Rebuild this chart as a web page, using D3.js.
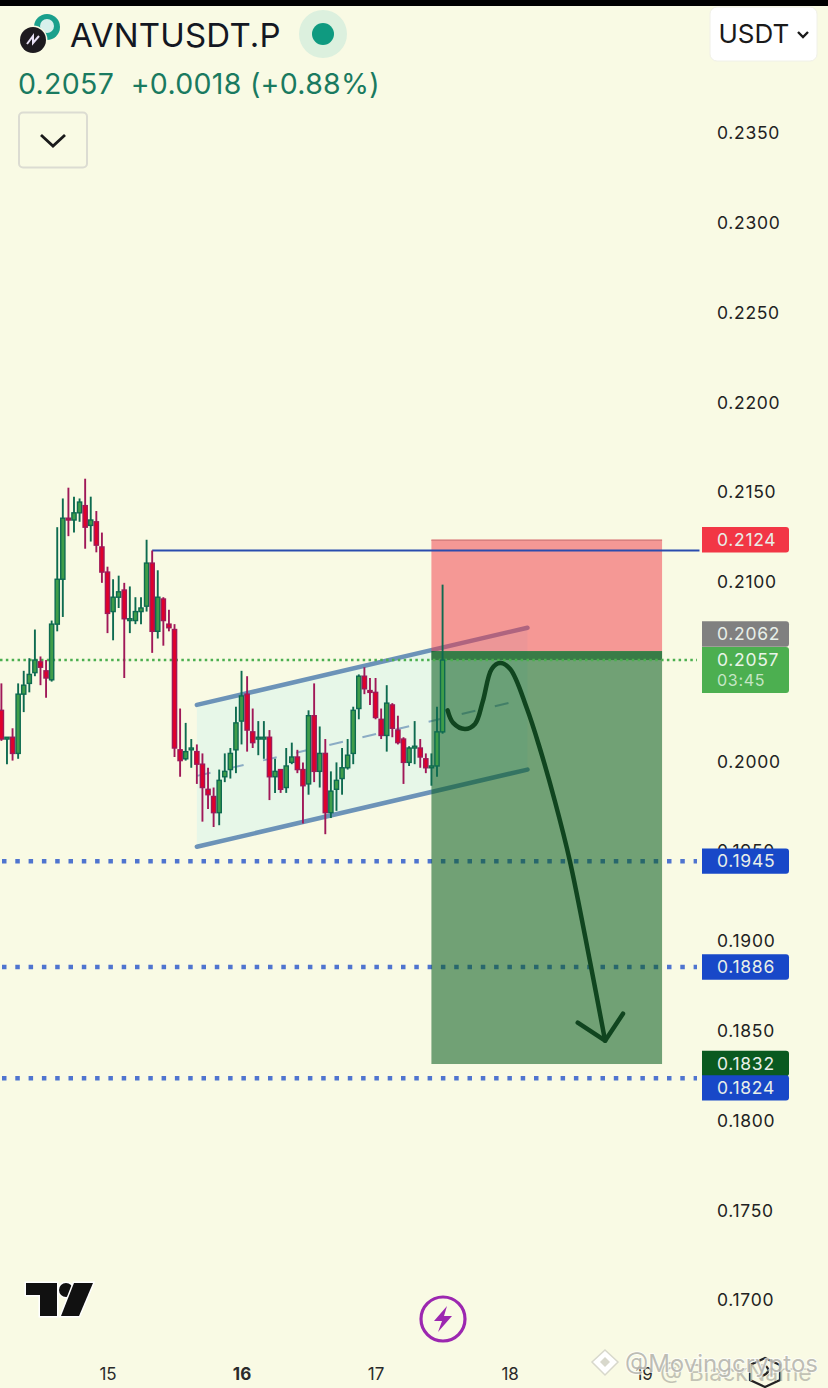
<!DOCTYPE html>
<html><head><meta charset="utf-8">
<script src="https://cdn.jsdelivr.net/npm/d3@7/dist/d3.min.js"></script>
<style>
html,body{margin:0;padding:0;background:#f9fae4;}
svg{display:block;font-family:Inter,Roboto,sans-serif;}
</style></head><body><div id="chart"></div>
<script>
const firstHour = -19;
const opens = [.2029,.2013,.2014,.2005,.2038,.2044,.2050,.2056,.2051,.2046,.2077,.2102,.2136,.2135,.2139,.2143,.2132,.2134,.2120,.2106,
.2084,.2092,.2096,.2079,.2079,.2084,.2087,.2111,.2073,.2091,.2077,.2074,.2007,.2002,.2007,.2006,.1999,.1985,.1981,.1972,
.1992,.1996,.2007,.2023,.2038,.2017,.2013,.2013,.2014,.1992,.1996,.1986,.2000,.2003,.1996,.1988,.2026,.1995,.2005,.1972,
.1985,.1991,.1997,.2005,.2030,.2048,.2040,.2039,.2024,.2015,.2032,.2018,.2013,.2000,.2008,.2008,.2002,.1997,.1998,.2017];
const highs = [.2044,.2014,.2019,.2044,.2051,.2058,.2074,.2059,.2057,.2079,.2131,.2147,.2153,.2148,.2147,.2158,.2148,.2140,.2128,.2109,
.2102,.2104,.2100,.2098,.2092,.2092,.2124,.2118,.2107,.2092,.2085,.2077,.2030,.2022,.2013,.2010,.2005,.1997,.1986,.1996,
.2005,.2008,.2031,.2051,.2048,.2030,.2023,.2023,.2018,.2002,.1996,.2008,.2011,.2007,.2000,.2029,.2044,.2020,.2013,.1995,
.2000,.2008,.2013,.2031,.2049,.2053,.2047,.2047,.2030,.2043,.2033,.2026,.2014,.2009,.2023,.2013,.2005,.2005,.2031,.2099];
const lows = [.2012,.1999,.2001,.2002,.2028,.2039,.2048,.2043,.2036,.2045,.2073,.2081,.2126,.2128,.2134,.2119,.2123,.2117,.2100,.2072,
.2068,.2086,.2047,.2072,.2077,.2077,.2084,.2061,.2069,.2065,.2073,.2003,.1992,.2001,.1997,.1988,.1967,.1974,.1964,.1965,
.1989,.1991,.1994,.2010,.2006,.2008,.2004,.2002,.1979,.1983,.1983,.1983,.1999,.1994,.1966,.1982,.1989,.1986,.1960,.1969,
.1973,.1982,.1996,.1999,.2024,.2038,.2032,.2024,.2013,.2006,.2014,.2010,.1988,.1998,.1999,.1997,.1994,.1987,.1992,.2016];
const closes = [.2013,.2014,.2005,.2038,.2043,.2049,.2057,.2053,.2047,.2077,.2102,.2136,.2135,.2139,.2145,.2131,.2135,.2121,.2106,.2083,
.2092,.2095,.2080,.2080,.2084,.2086,.2111,.2073,.2092,.2079,.2075,.2008,.2001,.2006,.2008,.1999,.1986,.1982,.1972,.1990,
.1995,.2005,.2022,.2037,.2018,.2011,.2014,.2014,.1992,.1995,.1985,.1998,.2003,.1996,.1987,.2026,.1995,.2005,.1972,.1984,
.1990,.1997,.2004,.2029,.2048,.2041,.2039,.2025,.2015,.2033,.2019,.2011,.2000,.2008,.2009,.2003,.1997,.1998,.2017,.2057];

const priceTicks = [.2350,.2300,.2250,.2200,.2150,.2100,.2050,.2000,.1950,.1900,.1850,.1800,.1750,.1700];
const dayTickHours = [0,24,48,72,96];
const dayLabels = ["15","16","17","18","19"];
const supportLevels = [.1945,.1886,.1824];
const lastPrice = .2057, entryPrice = .2062, stopPrice = .2124, targetPrice = .1832, swingHigh = .2118;
const swingHours = [8,106];
const positionHours = [58,99.3];
const channelHours = [16,75.2];
const channelUpper = [.2032,.2075];
const channelLower = [.1953,.1996];
const channelMid = [.19925,.20355];
const pathHours = [60.9,61.9,64,65.8,67.2,68.8,70.3,72.1,75.1,77.4,80.1,82.8,86.4,89.1];
const pathPrices = [.2029,.2022,.20186,.20214,.2034,.2052,.20553,.2052,.2030,.2008,.19785,.1945,.1889,.1845];
const arrowHours = [84.2,89.1,92.3];
const arrowPrices = [.1855,.1845,.1860];
const labelTexts = ["0.2124","0.2062","0.1945","0.1886","0.1832","0.1824"];
const labelPrices = [.2124,.2062,.1945,.1886,.1832,.1824];
const labelColors = ["#f23645","#808080","#1848c8","#1848c8","#0a5a20","#1848c8"];
const labelNudge = [0,-17,0,0,-0.5,9.5];

const W=828,H=1388;
const y=d3.scaleLinear().domain([.2350,.1700]).range([134,1301]);
const x=d3.scaleLinear().domain([0,72]).range([107.5,509.6]);
const svg=d3.select("#chart").append("svg").attr("width",W).attr("height",H).attr("viewBox",`0 0 ${W} ${H}`);
svg.append("rect").attr("width",W).attr("height",H).attr("fill","#f9fae4");
svg.append("rect").attr("width",W).attr("height",6).attr("fill","#000");

// axes
const yAxis=svg.append("g").attr("transform","translate(717,-0.8)")
  .call(d3.axisRight(y).tickValues(priceTicks).tickSize(0).tickPadding(0).tickFormat(d3.format(".4f")));
yAxis.select(".domain").remove();
yAxis.selectAll("text").attr("font-family","Inter,Roboto,sans-serif").attr("font-size",17.5).attr("fill","#222").attr("letter-spacing",0.7);
const xAxis=svg.append("g").attr("transform","translate(0,1368)")
  .call(d3.axisBottom(x).tickValues(dayTickHours).tickSize(0).tickPadding(0).tickFormat((d,i)=>dayLabels[i]));
xAxis.select(".domain").remove();
xAxis.selectAll("text").attr("font-family","Inter,Roboto,sans-serif").attr("font-size",17).attr("fill","#2a2a2a")
  .attr("font-weight",(d,i)=>i===1?700:400);

// channel
const chPts=[[channelHours[0],channelUpper[0]],[channelHours[1],channelUpper[1]],[channelHours[1],channelLower[1]],[channelHours[0],channelLower[0]]];
svg.append("path").attr("d",d3.line().x(d=>x(d[0])).y(d=>y(d[1]))(chPts)+"Z").attr("fill","#e7f7e8");
const chanLine=(vals,w,dash,op)=>svg.append("line")
  .attr("x1",x(channelHours[0])).attr("x2",x(channelHours[1])).attr("y1",y(vals[0])).attr("y2",y(vals[1]))
  .attr("stroke","#6c93b8").attr("stroke-width",w).attr("stroke-linecap",dash?"butt":"round").attr("stroke-dasharray",dash).attr("stroke-opacity",op);
chanLine(channelMid,2,"14 20",.75);
chanLine(channelUpper,4.5,null,1);
chanLine(channelLower,4.5,null,1);

// support dotted lines
svg.selectAll(".sup").data(supportLevels).join("line").attr("class","sup")
  .attr("x1",0).attr("x2",697).attr("y1",d=>y(d)).attr("y2",d=>y(d))
  .attr("stroke","#4f74cf").attr("stroke-width",4.5).attr("stroke-dasharray","4.5 8.8").attr("stroke-dashoffset",-2);

// position tool
const pX0=x(positionHours[0]),pX1=x(positionHours[1]);
svg.append("rect").attr("x",pX0).attr("width",pX1-pX0).attr("y",y(stopPrice)).attr("height",y(entryPrice)-y(stopPrice)).attr("fill","#f23645").attr("fill-opacity",.5);
svg.append("rect").attr("x",pX0).attr("width",pX1-pX0).attr("y",y(entryPrice)).attr("height",y(targetPrice)-y(entryPrice)).attr("fill","rgb(11,94,33)").attr("fill-opacity",.57);
svg.append("rect").attr("x",pX0).attr("width",pX1-pX0).attr("y",y(entryPrice)).attr("height",y(lastPrice)-y(entryPrice)).attr("fill","rgb(11,94,33)").attr("fill-opacity",.55);
svg.append("line").attr("x1",pX0).attr("x2",pX1).attr("y1",y(stopPrice)+.5).attr("y2",y(stopPrice)+.5).attr("stroke","#d9807f").attr("stroke-width",1.5);

// current price dotted
svg.append("line").attr("x1",0).attr("x2",697).attr("y1",y(lastPrice)).attr("y2",y(lastPrice))
  .attr("stroke","#4caf50").attr("stroke-width",2.5).attr("stroke-dasharray","2.5 3.35");

// swing high line
svg.append("line").attr("x1",x(swingHours[0])).attr("x2",x(swingHours[1])).attr("y1",y(swingHigh)).attr("y2",y(swingHigh))
  .attr("stroke","#2a4cae").attr("stroke-width",2);

// candles
const candles=opens.map((o,i)=>({h:firstHour+i,o,hi:highs[i],lo:lows[i],c:closes[i]}));
const g=svg.append("g");
const up=d=>d.c>=d.o;
g.selectAll(".wick").data(candles).join("line").attr("class","wick")
  .attr("x1",d=>x(d.h)).attr("x2",d=>x(d.h)).attr("y1",d=>y(d.hi)).attr("y2",d=>y(d.lo))
  .attr("stroke",d=>up(d)?"#0e6b50":"#a01858").attr("stroke-width",1.9);
g.selectAll(".body").data(candles).join("rect").attr("class","body")
  .attr("x",d=>x(d.h)-2.1).attr("width",4.2)
  .attr("y",d=>y(Math.max(d.o,d.c))).attr("height",d=>Math.max(1,Math.abs(y(d.o)-y(d.c))))
  .attr("fill",d=>up(d)?"#3f9d4a":"#e0002b").attr("stroke",d=>up(d)?"#0e6b50":"#a01858").attr("stroke-width",1.4);

// hand drawn path
const ln=d3.line().x(d=>x(d[0])).y(d=>y(d[1]));
svg.append("path").attr("d",ln.curve(d3.curveCatmullRom)(pathHours.map((h,i)=>[h,pathPrices[i]])))
  .attr("fill","none").attr("stroke","#10451f").attr("stroke-width",4.5).attr("stroke-linecap","round");
svg.append("path").attr("d",d3.line().x(d=>x(d[0])).y(d=>y(d[1]))(arrowHours.map((h,i)=>[h,arrowPrices[i]])))
  .attr("fill","none").attr("stroke","#10451f").attr("stroke-width",4.5).attr("stroke-linecap","round").attr("stroke-linejoin","round");

// price labels
function lab(y0,y1,c){
  const a=702,b=789,r=3;
  return svg.append("path").attr("d",`M${a},${y0}H${b-r}Q${b},${y0} ${b},${y0+r}V${y1-r}Q${b},${y1} ${b-r},${y1}H${a}Z`).attr("fill",c);
}
labelTexts.forEach((t,i)=>{
  const cy=y(labelPrices[i])+labelNudge[i];
  lab(cy-12.7,cy+12.7,labelColors[i]);
  svg.append("text").attr("x",717).attr("y",cy+6.2).attr("font-size",17.5).attr("letter-spacing",.7).attr("fill","#e8efe8").text(t);
});
const cyL=y(lastPrice);
lab(cyL-13,cyL+33,"#4caf50");
svg.append("text").attr("x",717).attr("y",cyL+5.5).attr("font-size",17.5).attr("letter-spacing",.7).attr("fill","#e9f5e9").text("0.2057");
svg.append("text").attr("x",717).attr("y",cyL+26).attr("font-size",16).attr("letter-spacing",.7).attr("fill","#c6e6c6").text("03:45");

// header
svg.append("circle").attr("cx",47).attr("cy",27).attr("r",13).attr("fill","#1aa08c");
svg.append("circle").attr("cx",47).attr("cy",26).attr("r",7).attr("fill","#d8f0ec");
svg.append("circle").attr("cx",33).attr("cy",40).attr("r",14.5).attr("fill","#f9fae4");
svg.append("circle").attr("cx",33).attr("cy",40).attr("r",13).attr("fill","#1d1a1f");
svg.append("path").attr("d","M27,44 L33,36 L33,43 L39,36").attr("fill","none").attr("stroke","#e8e0f5").attr("stroke-width",2);
svg.append("text").attr("x",70).attr("y",46.5).attr("font-size",33).attr("letter-spacing",.2).attr("fill","#131722").text("AVNTUSDT.P");
svg.append("circle").attr("cx",323).attr("cy",34).attr("r",24).attr("fill","#dcf0de");
svg.append("circle").attr("cx",323).attr("cy",34).attr("r",11).attr("fill","#0f9a80");
svg.append("text").attr("x",18).attr("y",94).attr("font-size",28.5).attr("letter-spacing",.3).attr("fill","#1a7a60").attr("xml:space","preserve").text("0.2057  +0.0018 (+0.88%)");
svg.append("rect").attr("x",19).attr("y",112.5).attr("width",68).attr("height",55).attr("rx",4).attr("fill","#f9fae4").attr("stroke","#dcdcd2").attr("stroke-width",2);
svg.append("path").attr("d","M41,135 L53,146 L65,135").attr("fill","none").attr("stroke","#1a1a1a").attr("stroke-width",2.8);
svg.append("rect").attr("x",710).attr("y",7).attr("width",107).attr("height",54).attr("rx",7).attr("fill","#fff").attr("stroke","#f0f0e8");
svg.append("text").attr("x",718.5).attr("y",43).attr("font-size",26).attr("fill","#1a1a1a").text("USDT");
svg.append("path").attr("d","M798,32 L803,37 L808,32").attr("fill","none").attr("stroke","#1a1a1a").attr("stroke-width",2.4);

// TV logo
const logo=svg.append("g").attr("fill","#111").attr("stroke","#fff").attr("stroke-width",3).attr("paint-order","stroke");
logo.append("path").attr("d","M26,1283H57V1316H40V1295H26Z");
logo.append("circle").attr("cx",66).attr("cy",1290).attr("r",7);
logo.append("path").attr("d","M74,1283H93L79,1316H61Z");

// lightning
svg.append("circle").attr("cx",443).attr("cy",1319).attr("r",22).attr("fill","none").attr("stroke","#9c27b0").attr("stroke-width",3.2);
svg.append("path").attr("d","M447,1306L434,1321H442L438,1332L452,1316H444Z").attr("fill","#9c27b0");

// watermark and bottom icon
svg.append("path").attr("d","M765,1358L780,1365V1380L765,1387L750,1380V1365Z").attr("fill","none").attr("stroke","#222").attr("stroke-width",2.2);
svg.append("path").attr("d","M762,1376Q772,1372 766,1366").attr("fill","none").attr("stroke","#222").attr("stroke-width",2.2);
svg.append("text").attr("x",660).attr("y",1381).attr("font-size",23).attr("fill","#b4b4a8").attr("fill-opacity",.8).text("@ BlackName");
svg.append("text").attr("x",625).attr("y",1372).attr("font-size",24).attr("fill","#a8a8a0").attr("stroke","#fff").attr("stroke-width",2).attr("paint-order","stroke").attr("fill-opacity",.75).attr("stroke-opacity",.7).text("@Movingcryptos");
svg.append("path").attr("d","M605,1350L618,1362L605,1375L592,1362Z").attr("fill","#fff").attr("stroke","#d8d8cc").attr("stroke-width",1.5);
svg.append("path").attr("d","M605,1357L610,1362L605,1367L600,1362Z").attr("fill","#d8d8cc");
</script></body></html>
